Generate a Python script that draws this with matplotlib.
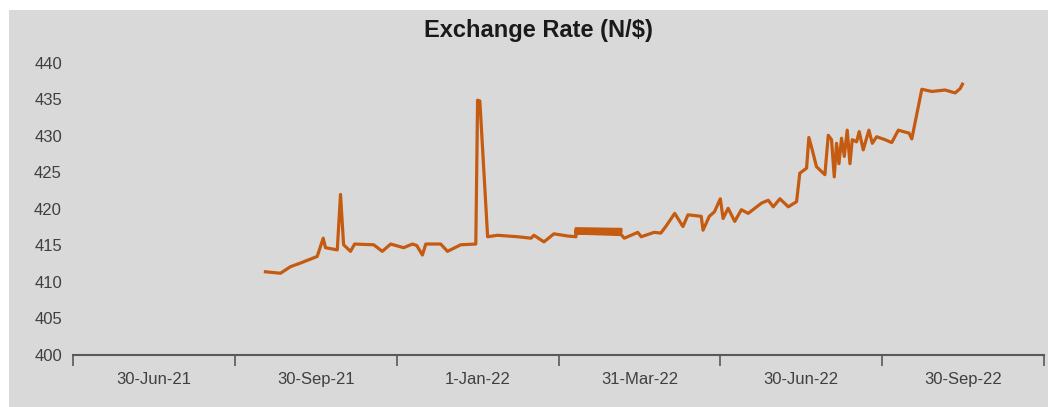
import matplotlib.pyplot as plt
from matplotlib.patches import Rectangle

# category labels on the x axis (each label sits in the middle of its slot)
categories = ["30-Jun-21", "30-Sep-21", "1-Jan-22", "31-Mar-22", "30-Jun-22", "30-Sep-22"]

# exchange rate series, x given in category units (0 = left edge of axis)
rate_x = [1.189, 1.282, 1.344, 1.406, 1.509, 1.546, 1.560, 1.633, 1.653, 1.672,
          1.715, 1.740, 1.858, 1.911, 1.963, 2.043, 2.097, 2.124, 2.159, 2.180,
          2.272, 2.314, 2.396, 2.489, 2.500, 2.514, 2.562, 2.624, 2.747, 2.830,
          2.848, 2.910, 2.972, 3.057, 3.108,
          3.108, 3.387, 3.108, 3.387, 3.108, 3.387,
          3.406, 3.490, 3.511, 3.591, 3.632, 3.663, 3.718, 3.769, 3.800, 3.882,
          3.893, 3.932, 3.963, 4.000, 4.017, 4.048, 4.089, 4.130, 4.172, 4.254,
          4.296, 4.327, 4.368, 4.420, 4.471, 4.491, 4.533, 4.547, 4.568, 4.594,
          4.646, 4.667, 4.687, 4.704, 4.718, 4.733, 4.749, 4.766, 4.784, 4.801,
          4.815, 4.842, 4.858, 4.883, 4.918, 4.939, 4.966, 5.017, 5.059, 5.100,
          5.131, 5.166, 5.183, 5.245, 5.307, 5.389, 5.451, 5.482, 5.496]
rate_y = [411.4, 411.2, 412.1, 412.6, 413.5, 416.0, 414.7, 414.4, 422.0, 415.1,
          414.2, 415.2, 415.1, 414.2, 415.2, 414.7, 415.2, 415.0, 413.7, 415.2,
          415.2, 414.2, 415.1, 415.2, 434.9, 434.8, 416.2, 416.4, 416.2, 416.0,
          416.4, 415.5, 416.6, 416.3, 416.2,
          417.3, 417.2, 417.0, 416.9, 416.7, 416.5,
          416.0, 416.8, 416.2, 416.8, 416.7, 417.6, 419.4, 417.6, 419.2, 419.0,
          417.1, 419.0, 419.6, 421.4, 418.7, 420.1, 418.3, 419.9, 419.4, 420.8,
          421.2, 420.3, 421.4, 420.3, 421.0, 424.9, 425.6, 429.8, 428.1, 425.8,
          424.7, 430.1, 429.5, 424.4, 429.0, 426.2, 429.7, 427.2, 430.8, 426.2,
          429.5, 429.2, 430.6, 428.1, 430.8, 429.0, 429.9, 429.5, 429.1, 430.8,
          430.6, 430.4, 429.6, 436.4, 436.1, 436.3, 435.9, 436.5, 437.1]

y_ticks = list(range(400, 441, 5))


def main():
    W, H = 1056, 407
    fig = plt.figure(figsize=(W / 100, H / 100), dpi=100, facecolor="white")

    # grey chart area box, kept behind the axes
    fig.patches.append(Rectangle((9 / W, 0), (1048 - 9) / W, (H - 10) / H,
                                 transform=fig.transFigure, facecolor="#d9d9d9",
                                 edgecolor="none", zorder=-10))

    ax = fig.add_axes([73 / W, 1 - 355 / H, (1044 - 73) / W, (355 - 63) / H])
    ax.set_facecolor("none")
    ax.set_zorder(5)

    ax.plot(rate_x, rate_y, color="#c55a11", lw=2.3, solid_joinstyle="round",
            clip_on=False)

    ax.set_xlim(0, len(categories))
    ax.set_ylim(400, 440)

    # tick marks on slot boundaries, labels in slot centres
    ax.set_xticks(range(len(categories) + 1))
    ax.set_xticklabels([])
    ax.set_xticks([i + 0.5 for i in range(len(categories))], minor=True)
    ax.set_xticklabels(categories, minor=True, fontsize=12, color="#404040",
                       family="Liberation Sans")
    ax.tick_params(axis="x", which="major", length=8, width=1.2, color="#595959",
                   direction="out")
    ax.tick_params(axis="x", which="minor", length=0, pad=12)

    ax.set_yticks(y_ticks)
    ax.set_yticklabels([str(v) for v in y_ticks], fontsize=12, color="#404040",
                       family="Liberation Sans")
    ax.tick_params(axis="y", length=0, pad=8)

    for s in ["top", "right", "left"]:
        ax.spines[s].set_visible(False)
    ax.spines["bottom"].set_color("#595959")
    ax.spines["bottom"].set_linewidth(1.5)

    fig.text(538 / W, 1 - 30 / H, "Exchange Rate (N/$)", ha="center", va="center",
             fontsize=17, fontweight="bold", family="Liberation Sans",
             color="#1a1a1a")

    fig.savefig("out.png", dpi=100, facecolor="white")


if __name__ == "__main__":
    main()
